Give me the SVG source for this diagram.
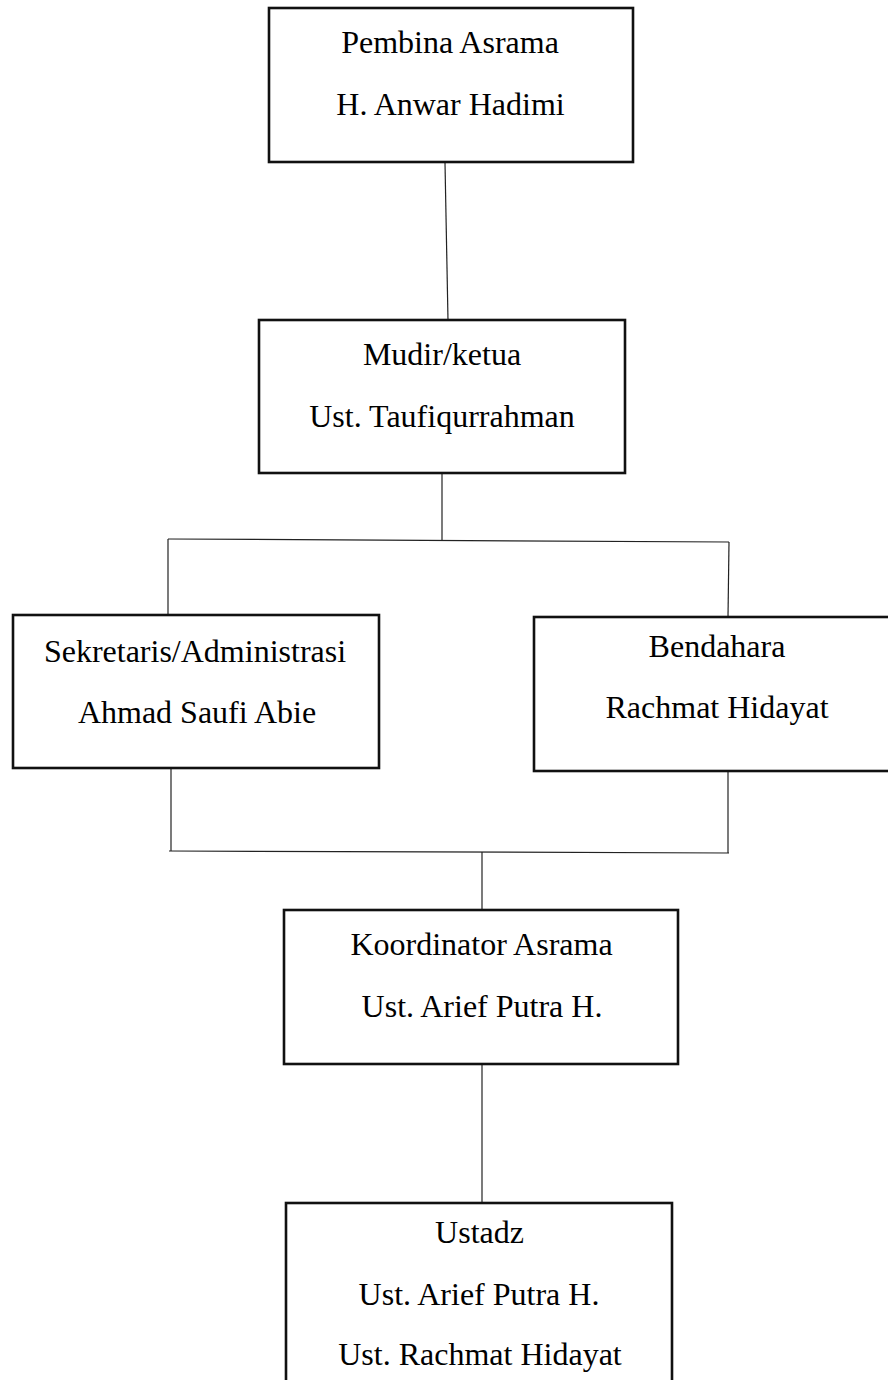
<svg xmlns="http://www.w3.org/2000/svg" width="888" height="1380" viewBox="0 0 888 1380">
<style>
.box{fill:#fff;stroke:#111;stroke-width:2.6}
.t{font-family:"Liberation Serif","Times New Roman",serif;font-size:32px;fill:#000;text-anchor:middle}
.c{stroke:#222;stroke-width:1.2;fill:none}
</style>
<rect width="888" height="1380" fill="#fff"/>
<g id="connectors">
<line class="c" x1="445" y1="163" x2="448" y2="320"/>
<line class="c" x1="442" y1="473" x2="442" y2="540"/>
<line class="c" x1="168" y1="539" x2="729" y2="542"/>
<line class="c" x1="168" y1="539" x2="168" y2="615"/>
<line class="c" x1="729" y1="542" x2="728" y2="617"/>
<line class="c" x1="171" y1="768" x2="171" y2="851"/>
<line class="c" x1="728" y1="771" x2="728" y2="853"/>
<line class="c" x1="169" y1="851" x2="729" y2="853"/>
<line class="c" x1="482" y1="852" x2="482" y2="910"/>
<line class="c" x1="482" y1="1064" x2="482" y2="1203"/>
</g>
<g id="pembina">
<rect class="box" x="269" y="8" width="364" height="154"/>
<text class="t" x="450" y="53">Pembina Asrama</text>
<text class="t" x="450.5" y="115">H. Anwar Hadimi</text>
</g>
<g id="mudir">
<rect class="box" x="259" y="320" width="366" height="153"/>
<text class="t" x="442" y="365">Mudir/ketua</text>
<text class="t" x="442" y="427">Ust. Taufiqurrahman</text>
</g>
<g id="sekretaris">
<rect class="box" x="13" y="615" width="366" height="153"/>
<text class="t" x="195" y="662">Sekretaris/Administrasi</text>
<text class="t" x="197" y="723">Ahmad Saufi Abie</text>
</g>
<g id="bendahara">
<rect class="box" x="534" y="617" width="366" height="154"/>
<text class="t" x="717" y="657">Bendahara</text>
<text class="t" x="717" y="718">Rachmat Hidayat</text>
</g>
<g id="koordinator">
<rect class="box" x="284" y="910" width="394" height="154"/>
<text class="t" x="481.5" y="955">Koordinator Asrama</text>
<text class="t" x="482" y="1017">Ust. Arief Putra H.</text>
</g>
<g id="ustadz">
<rect class="box" x="286" y="1203" width="386" height="200"/>
<text class="t" x="479.5" y="1243">Ustadz</text>
<text class="t" x="479" y="1305">Ust. Arief Putra H.</text>
<text class="t" x="480" y="1365">Ust. Rachmat Hidayat</text>
</g>
</svg>
